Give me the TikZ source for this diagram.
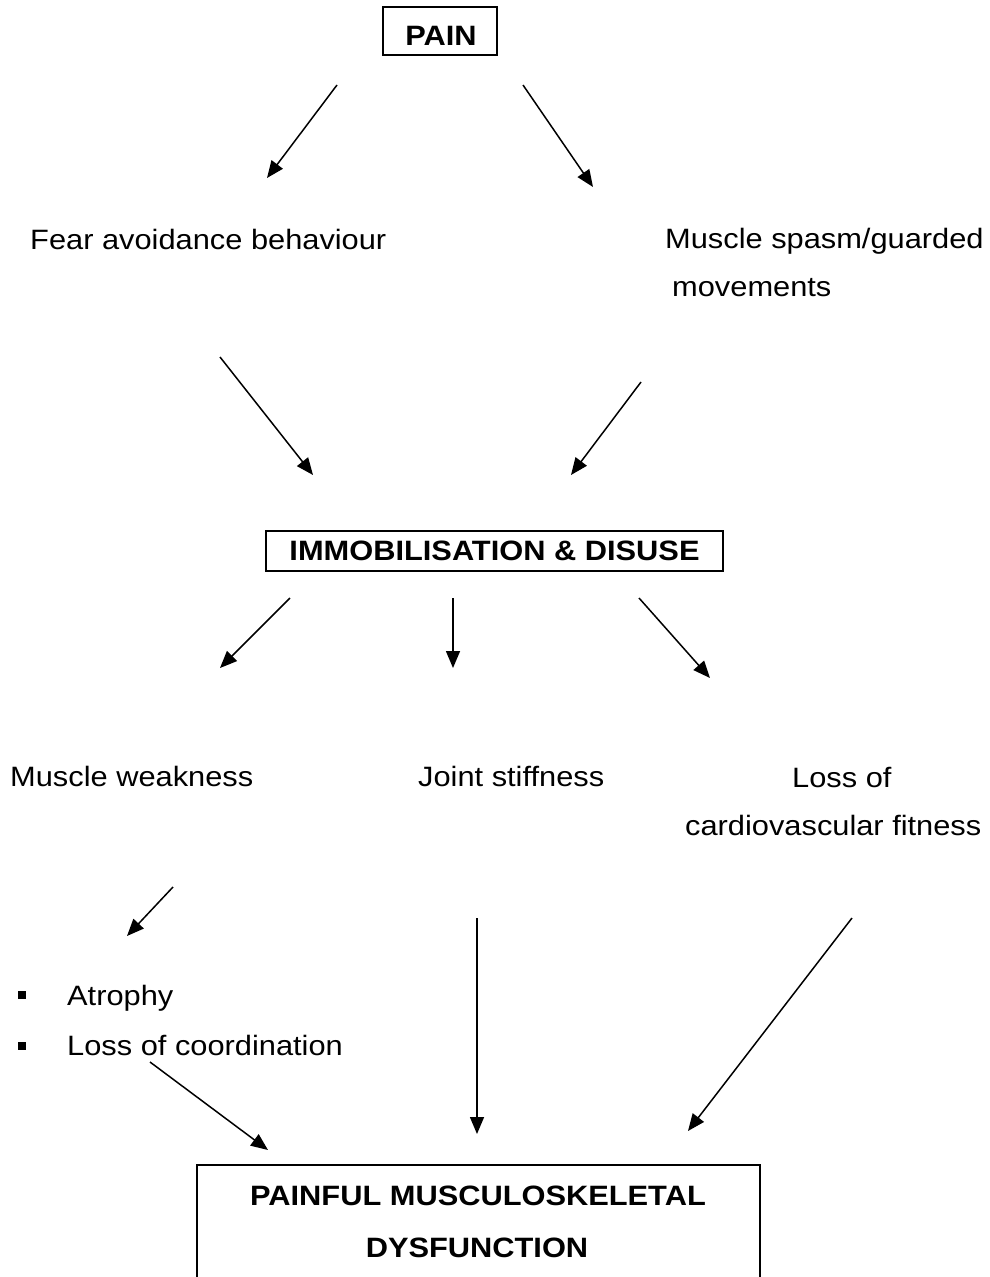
\documentclass[tikz,border=0pt]{standalone}
\usepackage{fontspec}
\setmainfont{Liberation Sans}[FakeStretch=1.1]
\usetikzlibrary{arrows.meta}
\tikzset{
  arr/.style={line width=1.5pt, -{Triangle[length=17pt,width=14pt]}},
  boxline/.style={draw, line width=1.4pt},
  txt/.style={anchor=base west, inner sep=0pt, font=\fontsize{28}{34}\selectfont},
  btxt/.style={anchor=base, inner sep=0pt, font=\fontsize{28}{34}\selectfont\bfseries},
  bullet/.style={fill, minimum size=8pt, inner sep=0pt},
}
\begin{document}
\begin{tikzpicture}[x=1pt,y=-1pt]
\useasboundingbox (0,0) rectangle (990,1277);
% boxes
\node[boxline, minimum width=114pt, minimum height=48pt, inner sep=0pt] (pain) at (440,31) {};
\node[btxt] (paintxt) at (441,45) {PAIN};
\node[boxline, minimum width=457pt, minimum height=40pt, inner sep=0pt] (immo) at (494.5,551) {};
\node[btxt] (immotxt) at (494.5,560) {IMMOBILISATION \& DISUSE};
\coordinate (pbl) at (197,1280);
\coordinate (ptl) at (197,1165);
\coordinate (ptr) at (760,1165);
\coordinate (pbr) at (760,1280);
\draw[line width=1.4pt] (pbl) -- (ptl) -- (ptr) -- (pbr);
\node[btxt] (pmd1) at (478,1205) {PAINFUL MUSCULOSKELETAL};
\node[btxt] (pmd2) at (477,1257) {DYSFUNCTION};
% texts
\node[txt] (fear) at (30,249) {Fear avoidance behaviour};
\node[txt] (spasm1) at (665,248) {Muscle spasm/guarded};
\node[txt] (spasm2) at (672,296) {movements};
\node[txt] (weak) at (10,786) {Muscle weakness};
\node[txt] (joint) at (418,786) {Joint stiffness};
\node[txt] (loss1) at (792,787) {Loss of};
\node[txt] (loss2) at (685,835) {cardiovascular fitness};
\node[bullet] (b1) at (21.5,994.5) {};
\node[bullet] (b2) at (21.5,1045.5) {};
\node[txt] (atro) at (67,1005) {Atrophy};
\node[txt] (coord) at (67,1055) {Loss of coordination};
% arrow endpoints
\coordinate (a1s) at (337,85);   \coordinate (a1e) at (267,178);
\coordinate (a2s) at (523,85);   \coordinate (a2e) at (593,187);
\coordinate (a3s) at (220,357);  \coordinate (a3e) at (313,475);
\coordinate (a4s) at (641,382);  \coordinate (a4e) at (571,475);
\coordinate (a5s) at (290,598);  \coordinate (a5e) at (220,668);
\coordinate (a6s) at (453,598);  \coordinate (a6e) at (453,668);
\coordinate (a7s) at (639,598);  \coordinate (a7e) at (710,678);
\coordinate (a8s) at (173,887);  \coordinate (a8e) at (127,936);
\coordinate (a9s) at (477,918);  \coordinate (a9e) at (477,1134);
\coordinate (a10s) at (852,918); \coordinate (a10e) at (688,1131);
\coordinate (a11s) at (150,1062); \coordinate (a11e) at (268,1150);
\foreach \i in {1,...,11} {\draw[arr] (a\i s) -- (a\i e);}
\end{tikzpicture}
\end{document}
